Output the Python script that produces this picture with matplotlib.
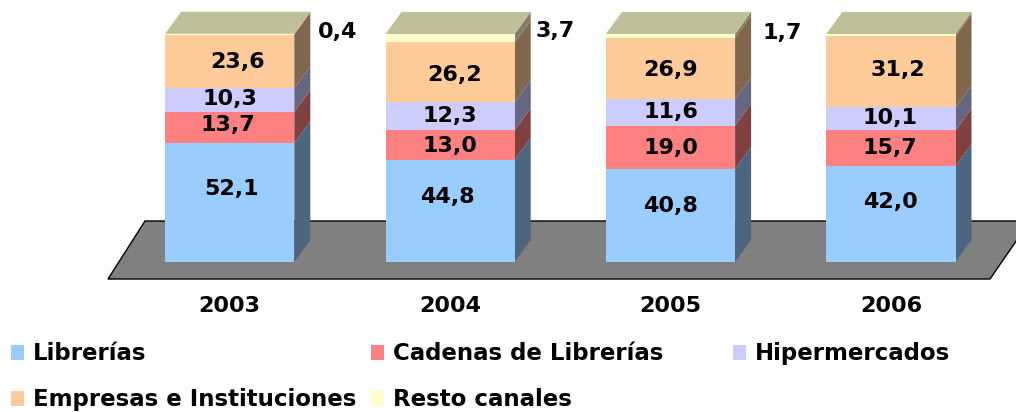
import numpy as np
import matplotlib
matplotlib.use('Agg')
import matplotlib.pyplot as plt
from matplotlib.patches import Rectangle

years = ['2003', '2004', '2005', '2006']
series_names = ['Librerías', 'Cadenas de Librerías', 'Hipermercados', 'Empresas e Instituciones', 'Resto canales']
librerias = [52.1, 44.8, 40.8, 42.0]
cadenas = [13.7, 13.0, 19.0, 15.7]
hiper = [10.3, 12.3, 11.6, 10.1]
empresas = [23.6, 26.2, 26.9, 31.2]
resto = [0.4, 3.7, 1.7, 1.0]  # 2006 has no label, read from the thin band
colors = ['#99CCFF', '#FF8080', '#CCCCFF', '#FFCC99', '#FFFFCC']

# manual label offsets in pixels (the originals were dragged around)
label_dx = [[2, -2, 0, 8, 108], [-3, 0, 0, 4, 105], [0, 0, 0, 0, 112], [0, -1, -1, 7, 0]]
label_dy = [[14, 3, 1, 0, 2], [14, -1, 0, -3, 7], [9.5, -1, 0, -1, 3], [12, 0, 1, 2, 0]]

W, H = 1016, 412
x_step = 220.4    # px between bars
y_step = 2.28     # px per percent
x0_px, y0_px = 229.7, 262
bar_w = 129.2 / x_step
depth_x = 16 / x_step
depth_y = 22 / y_step
FS = 16


def shade(c, f):
    return tuple(v * f for v in matplotlib.colors.to_rgb(c))


fig = plt.figure(figsize=(W / 100, H / 100), dpi=100)
ax = fig.add_axes([0, 0, 1, 1])
ax.set_xlim(-x0_px / x_step, (W - x0_px) / x_step)
ax.set_ylim(-(H - y0_px) / y_step, y0_px / y_step)
ax.axis('off')

# floor
fx = np.array([108, 990, 1030, 145])
fy = np.array([279, 279, 221, 221])
ax.fill((fx - x0_px) / x_step, (y0_px - fy) / y_step, facecolor='#808080',
        edgecolor='black', linewidth=1, zorder=1)

values = np.array([librerias, cadenas, hiper, empresas, resto])
x = np.arange(len(years))
bottom = np.zeros(len(years))
for s, vals in enumerate(values):
    ax.bar(x, vals, bar_w, bottom=bottom, color=colors[s], linewidth=0, zorder=3)
    for i in x:
        xr = i + bar_w / 2
        y1, y2 = bottom[i], bottom[i] + vals[i]
        ax.fill([xr, xr + depth_x, xr + depth_x, xr],
                [y1, y1 + depth_y, y2 + depth_y, y2],
                color=shade(colors[s], 0.5), linewidth=0, zorder=2)
        # no label on the 2006 resto band
        if not (s == 4 and i == 3):
            txt = f'{vals[i]:.1f}'.replace('.', ',')
            ax.annotate(txt, (i, y1 + vals[i] / 2),
                        xytext=(label_dx[i][s] * 0.72, label_dy[i][s] * 0.72),
                        textcoords='offset points', ha='center', va='center',
                        fontsize=FS, fontweight='bold', color='black', zorder=5)
    bottom += vals

# top faces
for i in x:
    xl = i - bar_w / 2
    xr = i + bar_w / 2
    t = bottom[i]
    ax.fill([xl, xr, xr + depth_x, xl + depth_x], [t, t, t + depth_y, t + depth_y],
            color=shade(colors[4], 0.75), linewidth=0, zorder=2)
    ax.text(i, (y0_px - 306) / y_step, years[i], ha='center', va='center',
            fontsize=FS, fontweight='bold')

# legend, laid out by hand in pixels
leg_x = [11, 371, 733, 11, 371]
leg_y = [360, 360, 360, 406, 406]   # baselines
for name, c, lx, ly in zip(series_names, colors, leg_x, leg_y):
    fig.add_artist(Rectangle((lx / W, 1 - ly / H), 13 / W, 15 / H,
                             transform=fig.transFigure, facecolor=c, linewidth=0))
    fig.text((lx + 22) / W, 1 - ly / H, name, ha='left', va='baseline',
             fontsize=16.5, fontweight='bold')

fig.savefig('out.png', dpi=100)
plt.close(fig)
